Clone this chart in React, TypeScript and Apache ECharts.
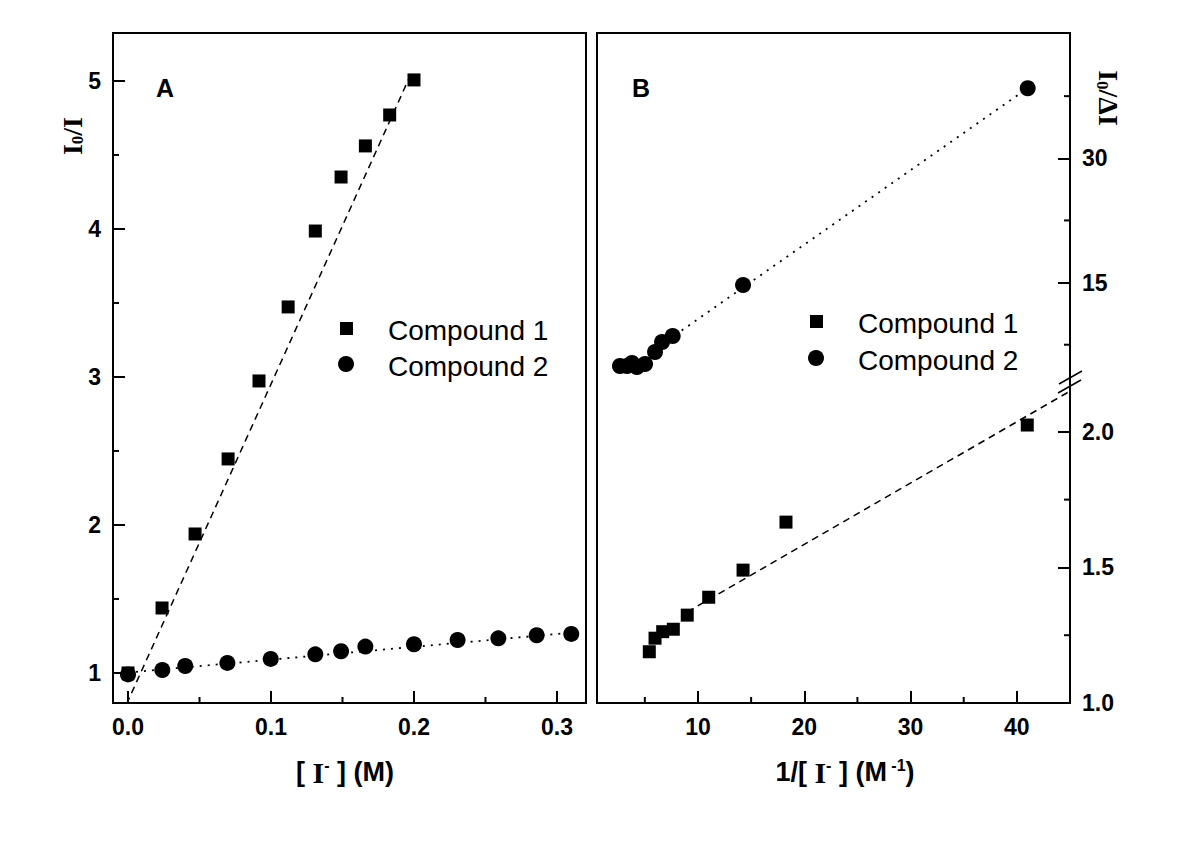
import React, { useEffect, useRef } from "react";
import * as echarts from "echarts";

// ---- Panel A data: I0/I vs [I-] (M)
const aCompound1X = [0, 0.0238, 0.0469, 0.070, 0.0916, 0.112, 0.131, 0.149, 0.166, 0.183, 0.200];
const aCompound1Y = [1.0, 1.439, 1.939, 2.446, 2.973, 3.473, 3.986, 4.351, 4.561, 4.77, 5.007];
const aCompound2X = [0, 0.024, 0.040, 0.0695, 0.0998, 0.131, 0.149, 0.166, 0.200, 0.2305, 0.259, 0.2858, 0.310];
const aCompound2Y = [0.99, 1.02, 1.047, 1.068, 1.095, 1.126, 1.147, 1.178, 1.194, 1.223, 1.234, 1.255, 1.264];
const aFit1X = [-0.001, 0.199];
const aFit1Y = [0.79, 5.07];
const aFit2X = [0, 0.31];
const aFit2Y = [1.003, 1.272];

// ---- Panel B data: I0/ΔI vs 1/[I-] (M^-1)
const bCompound1X = [5.42, 5.96, 6.68, 7.68, 8.99, 11.01, 14.24, 18.28, 40.98];
const bCompound1Y = [1.189, 1.239, 1.263, 1.272, 1.324, 1.39, 1.49, 1.667, 2.025];
const bCompound2X = [2.66, 3.32, 3.79, 4.26, 5.02, 5.96, 6.62, 7.62, 14.24, 41.02];
const bCompound2Y = [4.93, 4.93, 5.3, 4.8, 5.17, 6.62, 7.83, 8.55, 14.71, 38.45];
const bFit1X = [9.0, 45.0];
const bFit1Y = [1.336, 2.15];
const bFit2X = [6.0, 41.0];
const bFit2Y = [7.0, 38.45];

// ---- Axis ranges
const aXRange = [-0.0105, 0.3203];
const aYRange = [0.797, 5.324];
const bXRange = [0.5, 45];
const bYLowRange = [1.0, 2.18];
const bYUpRange = [3, 45];

// ---- Tick values
const aXMajor = [0, 0.1, 0.2, 0.3];
const aXMinor = [0.05, 0.15, 0.25];
const aYMajor = [1, 2, 3, 4, 5];
const aYMinor = [1.5, 2.5, 3.5, 4.5];
const bXMajor = [10, 20, 30, 40];
const bXMinor = [5, 15, 25, 35];
const bYLowMajor = [1.0, 1.5, 2.0];
const bYLowMinor = [1.25, 1.75];
const bYUpMajor = [15, 30];
const bYUpMinor = [7.5, 22.5, 37.5];

const legendNames = ["Compound 1", "Compound 2"];

const SANS = "'Liberation Sans', Arial, sans-serif";
const SERIF = "'Liberation Serif', 'Times New Roman', serif";

const zip = (xs: number[], ys: number[]) => xs.map((x, i) => [x, ys[i]]);

export default function App() {
  const ref = useRef<HTMLDivElement>(null);
  useEffect(() => {
    if (!ref.current) return;
    const chart = echarts.init(ref.current, null, { renderer: "svg" });

    const labelStyle = { fontFamily: SANS, fontWeight: "bold" as const, fontSize: 23, color: "#000" };
    const tickLine = { color: "#000", width: 2 };

    const xAx = (gridIndex: number, range: number[], major: number[] | null, fmt?: (v: number) => string) => ({
      type: "value" as const,
      gridIndex,
      position: "bottom",
      min: range[0],
      max: range[1],
      axisLine: { show: false, onZero: false },
      splitLine: { show: false },
      axisTick: major ? { inside: true, length: 12, customValues: major, lineStyle: tickLine } : { show: false },
      axisLabel: major ? { ...labelStyle, margin: 12, customValues: major, formatter: fmt } : { show: false },
    });

    const yAx = (gridIndex: number, position: string, range: number[], major: number[], fmt?: (v: number) => string) => ({
      type: "value" as const,
      gridIndex,
      position,
      min: range[0],
      max: range[1],
      axisLine: { show: false, onZero: false },
      splitLine: { show: false },
      axisTick: { inside: true, length: 12, customValues: major, lineStyle: tickLine },
      axisLabel: { ...labelStyle, margin: 12, customValues: major, formatter: fmt },
    });

    const f1 = (v: number) => v.toFixed(1);
    const f0 = (v: number) => String(v);

    // minor ticks drawn through the axis scales (custom series)
    const minorTicks = (
      xAxisIndex: number,
      yAxisIndex: number,
      data: number[][],
      dir: "up" | "right" | "left"
    ) => ({
      type: "custom",
      xAxisIndex,
      yAxisIndex,
      silent: true,
      clip: false,
      data,
      renderItem: (_p: any, api: any) => {
        const p = api.coord([api.value(0), api.value(1)]);
        const len = 6;
        const shape =
          dir === "up"
            ? { x1: p[0], y1: p[1], x2: p[0], y2: p[1] - len }
            : dir === "right"
            ? { x1: p[0], y1: p[1], x2: p[0] + len, y2: p[1] }
            : { x1: p[0], y1: p[1], x2: p[0] - len, y2: p[1] };
        return { type: "line", shape, style: { stroke: "#000", lineWidth: 2 } };
      },
    });

    const richTitle = {
      i: { fontFamily: SERIF, fontWeight: "bold", fontSize: 30 },
      sup: { fontFamily: SANS, fontWeight: "bold", fontSize: 16, verticalAlign: "top" },
    };
    const richY = {
      i: { fontFamily: SERIF, fontWeight: "bold", fontSize: 28 },
      sub: { fontFamily: SERIF, fontWeight: "bold", fontSize: 17, verticalAlign: "bottom" },
    };

    const option: any = {
      animation: false,
      backgroundColor: "#fff",
      grid: [
        { left: 113, top: 33, width: 473, height: 670 },
        { left: 597, top: 383, width: 473, height: 320 },
        { left: 597, top: 34, width: 473, height: 348 },
      ],
      xAxis: [
        xAx(0, aXRange, aXMajor, f1),
        xAx(1, bXRange, bXMajor, f0),
        xAx(2, bXRange, null),
      ],
      yAxis: [
        yAx(0, "left", aYRange, aYMajor, f0),
        yAx(1, "right", bYLowRange, bYLowMajor, f1),
        yAx(2, "right", bYUpRange, bYUpMajor, f0),
      ],
      series: [
        {
          name: "A fit 1", type: "line", xAxisIndex: 0, yAxisIndex: 0, data: zip(aFit1X, aFit1Y),
          showSymbol: false, symbol: "none", clip: true,
          lineStyle: { color: "#000", width: 1.5, type: [7, 5] },
        },
        {
          name: "A fit 2", type: "line", xAxisIndex: 0, yAxisIndex: 0, data: zip(aFit2X, aFit2Y),
          showSymbol: false, symbol: "none",
          lineStyle: { color: "#000", width: 1.8, type: [2, 6] },
        },
        {
          name: legendNames[0], type: "scatter", xAxisIndex: 0, yAxisIndex: 0, data: zip(aCompound1X, aCompound1Y),
          symbol: "rect", symbolSize: 13, itemStyle: { color: "#000", opacity: 1 },
        },
        {
          name: legendNames[1], type: "scatter", xAxisIndex: 0, yAxisIndex: 0, data: zip(aCompound2X, aCompound2Y),
          symbol: "circle", symbolSize: 16, itemStyle: { color: "#000", opacity: 1 },
        },
        {
          name: "B fit 1", type: "line", xAxisIndex: 1, yAxisIndex: 1, data: zip(bFit1X, bFit1Y),
          showSymbol: false, symbol: "none",
          lineStyle: { color: "#000", width: 1.5, type: [7, 5] },
        },
        {
          name: "B fit 2", type: "line", xAxisIndex: 2, yAxisIndex: 2, data: zip(bFit2X, bFit2Y),
          showSymbol: false, symbol: "none",
          lineStyle: { color: "#000", width: 1.8, type: [2, 6] },
        },
        {
          name: "B " + legendNames[0], type: "scatter", xAxisIndex: 1, yAxisIndex: 1, data: zip(bCompound1X, bCompound1Y),
          symbol: "rect", symbolSize: 13, itemStyle: { color: "#000", opacity: 1 },
        },
        {
          name: "B " + legendNames[1], type: "scatter", xAxisIndex: 2, yAxisIndex: 2, data: zip(bCompound2X, bCompound2Y),
          symbol: "circle", symbolSize: 16, itemStyle: { color: "#000", opacity: 1 },
        },
        minorTicks(0, 0, aXMinor.map((v) => [v, aYRange[0]]), "up"),
        minorTicks(0, 0, aYMinor.map((v) => [aXRange[0], v]), "right"),
        minorTicks(1, 1, bXMinor.map((v) => [v, bYLowRange[0]]), "up"),
        minorTicks(1, 1, bYLowMinor.map((v) => [bXRange[1], v]), "left"),
        minorTicks(2, 2, bYUpMinor.map((v) => [bXRange[1], v]), "left"),
      ],
      graphic: [
        // panel frames
        { type: "rect", shape: { x: 113, y: 33, width: 473, height: 670 }, style: { fill: "none", stroke: "#000", lineWidth: 2 }, z: 10 },
        { type: "rect", shape: { x: 597, y: 33, width: 473, height: 670 }, style: { fill: "none", stroke: "#000", lineWidth: 2 }, z: 10 },
        // axis break marks
        { type: "line", shape: { x1: 1059, y1: 384, x2: 1082, y2: 371 }, style: { stroke: "#000", lineWidth: 1.5 }, z: 11 },
        { type: "line", shape: { x1: 1058, y1: 393, x2: 1081, y2: 380 }, style: { stroke: "#000", lineWidth: 1.5 }, z: 11 },
        // panel letters
        { type: "text", x: 165, y: 88, style: { text: "A", font: `bold 25px ${SANS}`, fill: "#000", align: "center", verticalAlign: "middle" } },
        { type: "text", x: 641, y: 88, style: { text: "B", font: `bold 25px ${SANS}`, fill: "#000", align: "center", verticalAlign: "middle" } },
        // legend A
        { type: "rect", shape: { x: 340, y: 322, width: 13, height: 13 }, style: { fill: "#000" } },
        { type: "text", x: 388, y: 330, style: { text: legendNames[0], font: `28px ${SANS}`, fill: "#000", align: "left", verticalAlign: "middle" } },
        { type: "circle", shape: { cx: 346, cy: 364, r: 8 }, style: { fill: "#000" } },
        { type: "text", x: 388, y: 366, style: { text: legendNames[1], font: `28px ${SANS}`, fill: "#000", align: "left", verticalAlign: "middle" } },
        // legend B
        { type: "rect", shape: { x: 810, y: 315, width: 13, height: 13 }, style: { fill: "#000" } },
        { type: "text", x: 858, y: 323, style: { text: legendNames[0], font: `28px ${SANS}`, fill: "#000", align: "left", verticalAlign: "middle" } },
        { type: "circle", shape: { cx: 816, cy: 358, r: 8 }, style: { fill: "#000" } },
        { type: "text", x: 858, y: 360, style: { text: legendNames[1], font: `28px ${SANS}`, fill: "#000", align: "left", verticalAlign: "middle" } },
        // x axis titles
        {
          type: "text", x: 345, y: 772,
          style: { text: "[ {i|I}{sup|-} ] (M)", font: `bold 27px ${SANS}`, fill: "#000", align: "center", verticalAlign: "middle", rich: richTitle },
        },
        {
          type: "text", x: 845, y: 772,
          style: { text: "1/[ {i|I}{sup|-} ] (M{sup| -1})", font: `bold 27px ${SANS}`, fill: "#000", align: "center", verticalAlign: "middle", rich: richTitle },
        },
        // y axis titles
        {
          type: "text", x: 72, y: 136, rotation: Math.PI / 2,
          style: { text: "{i|I}{sub|0}{i|/I}", fill: "#000", align: "center", verticalAlign: "middle", rich: richY },
        },
        {
          type: "text", x: 1108, y: 98, rotation: -Math.PI / 2,
          style: { text: "{i|I}{sub|0}{i|/ΔI}", fill: "#000", align: "center", verticalAlign: "middle", rich: richY },
        },
      ],
    };

    chart.setOption(option);
    return () => chart.dispose();
  }, []);

  return <div ref={ref} style={{ width: 1200, height: 844, position: "absolute", left: 0, top: 0 }} />;
}
